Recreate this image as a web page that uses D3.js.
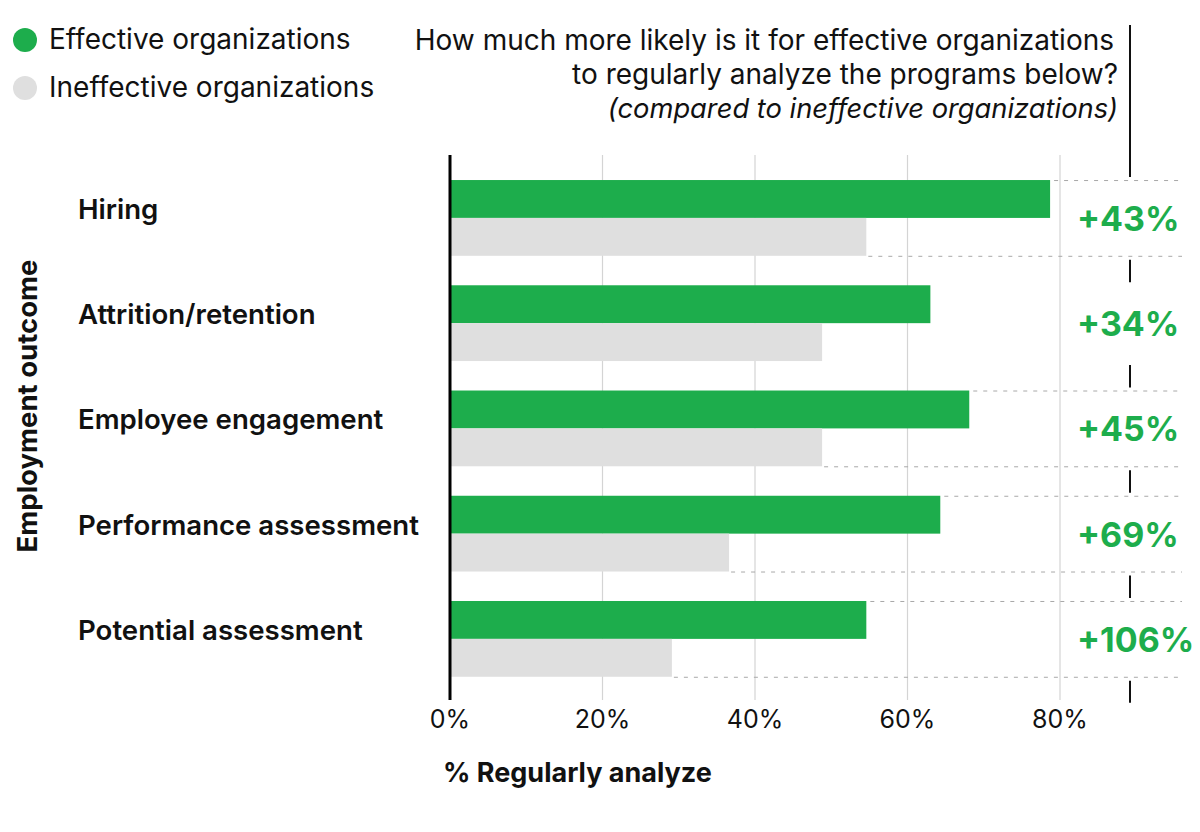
<!DOCTYPE html>
<html><head><meta charset="utf-8">
<script src="https://cdn.jsdelivr.net/npm/d3@7"></script>
<style>
html,body{margin:0;padding:0;background:#fff;}
text{font-family:Inter, "Noto Sans", sans-serif;}
</style></head>
<body>
<svg id="chart" width="1200" height="832"></svg>
<script>
const categories = ["Hiring","Attrition/retention","Employee engagement","Performance assessment","Potential assessment"];
const effective = [78.7, 63.0, 68.1, 64.3, 54.6];
const ineffective = [54.6, 48.8, 48.8, 36.6, 29.1];
const upliftLabels = ["+43%","+34%","+45%","+69%","+106%"];
const showGuides = [true, false, true, true, true];
const xTicks = [0, 20, 40, 60, 80];
const seriesNames = ["Effective organizations","Ineffective organizations"];
const titleLines = ["How much more likely is it for effective organizations","to regularly analyze the programs below?"];
const subtitle = "(compared to ineffective organizations)";

const GREEN = "#1dad4c", GRAY = "#dfdfdf";
const svg = d3.select("#chart");

const x = d3.scaleLinear().domain([0, 80]).range([450, 1060]);
const y = d3.scaleBand().domain(categories).range([165.3, 691.5]).paddingInner(0.28).paddingOuter(0.14);
const bh = y.bandwidth() / 2;
const plotTop = 155, plotBottom = 700;

// gridlines
svg.append("g").selectAll("line").data(xTicks.filter(d => d > 0)).join("line")
  .attr("x1", d => x(d)).attr("x2", d => x(d))
  .attr("y1", plotTop).attr("y2", plotBottom)
  .attr("stroke", "#d4d4d4").attr("stroke-width", 1.2);

// dashed guides
const guides = svg.append("g");
categories.forEach((c, i) => {
  if (!showGuides[i]) return;
  guides.append("line")
    .attr("x1", x(effective[i]) + 4).attr("x2", 1182)
    .attr("y1", y(c) + 0.5).attr("y2", y(c) + 0.5)
    .attr("stroke", "#a8a8a8").attr("stroke-dasharray", "4,6").attr("stroke-width", 1);
  guides.append("line")
    .attr("x1", x(ineffective[i]) + 2).attr("x2", 1182)
    .attr("y1", y(c) + y.bandwidth() + 0.5).attr("y2", y(c) + y.bandwidth() + 0.5)
    .attr("stroke", "#a8a8a8").attr("stroke-dasharray", "4,6").attr("stroke-width", 1);
});

// bars
svg.append("g").selectAll("rect").data(categories).join("rect")
  .attr("x", x(0)).attr("y", d => y(d))
  .attr("width", (d, i) => x(effective[i]) - x(0)).attr("height", bh)
  .attr("fill", GREEN);
svg.append("g").selectAll("rect").data(categories).join("rect")
  .attr("x", x(0)).attr("y", d => y(d) + bh)
  .attr("width", (d, i) => x(ineffective[i]) - x(0)).attr("height", bh)
  .attr("fill", GRAY);

// zero axis
svg.append("line").attr("x1", x(0)).attr("x2", x(0)).attr("y1", plotTop).attr("y2", plotBottom)
  .attr("stroke", "#000").attr("stroke-width", 3);

// tick labels
svg.append("g").selectAll("text").data(xTicks).join("text")
  .attr("x", d => x(d)).attr("y", 728)
  .attr("text-anchor", "middle")
  .attr("font-family", "Roboto").attr("font-size", 25).attr("fill", "#111")
  .text(d => d + "%");

// category labels
svg.append("g").selectAll("text").data(categories).join("text")
  .attr("x", 78).attr("y", d => y(d) + y.bandwidth() / 2 + 1)
  .attr("font-size", 27.6).attr("font-weight", 600).attr("fill", "#111")
  .text(d => d);

// uplift labels
svg.append("g").selectAll("text").data(categories).join("text")
  .attr("x", 1077).attr("y", d => y(d) + y.bandwidth() / 2 + 13)
  .attr("font-size", 34).attr("font-weight", 700).attr("fill", GREEN)
  .text((d, i) => upliftLabels[i]);

// vertical separator at right
const vx = 1130;
const vsegs = [[25, y(categories[0]) - 3]];
categories.forEach((c, i) => {
  const start = y(c) + y.bandwidth() + 4;
  const end = i < categories.length - 1 ? y(categories[i + 1]) - 3 : y(c) + y.bandwidth() + 26;
  vsegs.push([start, end]);
});
svg.append("g").selectAll("line").data(vsegs).join("line")
  .attr("x1", vx).attr("x2", vx).attr("y1", d => d[0]).attr("y2", d => d[1])
  .attr("stroke", "#111").attr("stroke-width", 2);

// title
const title = svg.append("g").attr("font-family", "Roboto").attr("font-size", 28).attr("fill", "#111").attr("text-anchor", "end");
title.append("text").attr("x", 1114).attr("y", 50).text(titleLines[0]);
title.append("text").attr("x", 1118).attr("y", 84).text(titleLines[1]);
title.append("text").attr("x", 1118).attr("y", 118).attr("font-style", "italic").attr("font-size", 27.3).text(subtitle);

// legend
const legend = svg.append("g");
[GREEN, GRAY].forEach((col, i) => {
  legend.append("circle").attr("cx", 25).attr("cy", 40 + i * 48).attr("r", 12).attr("fill", col);
  legend.append("text").attr("x", 49).attr("y", 49 + i * 48).attr("font-size", 28).attr("fill", "#111").text(seriesNames[i]);
});

// axis titles
svg.append("text").attr("x", 443).attr("y", 782).attr("font-size", 27).attr("font-weight", 700).attr("fill", "#111")
  .text("% Regularly analyze");
svg.append("text").attr("transform", "translate(37,406) rotate(-90)").attr("text-anchor", "middle")
  .attr("font-size", 27.5).attr("font-weight", 700).attr("fill", "#111")
  .text("Employment outcome");
</script>
</body></html>
